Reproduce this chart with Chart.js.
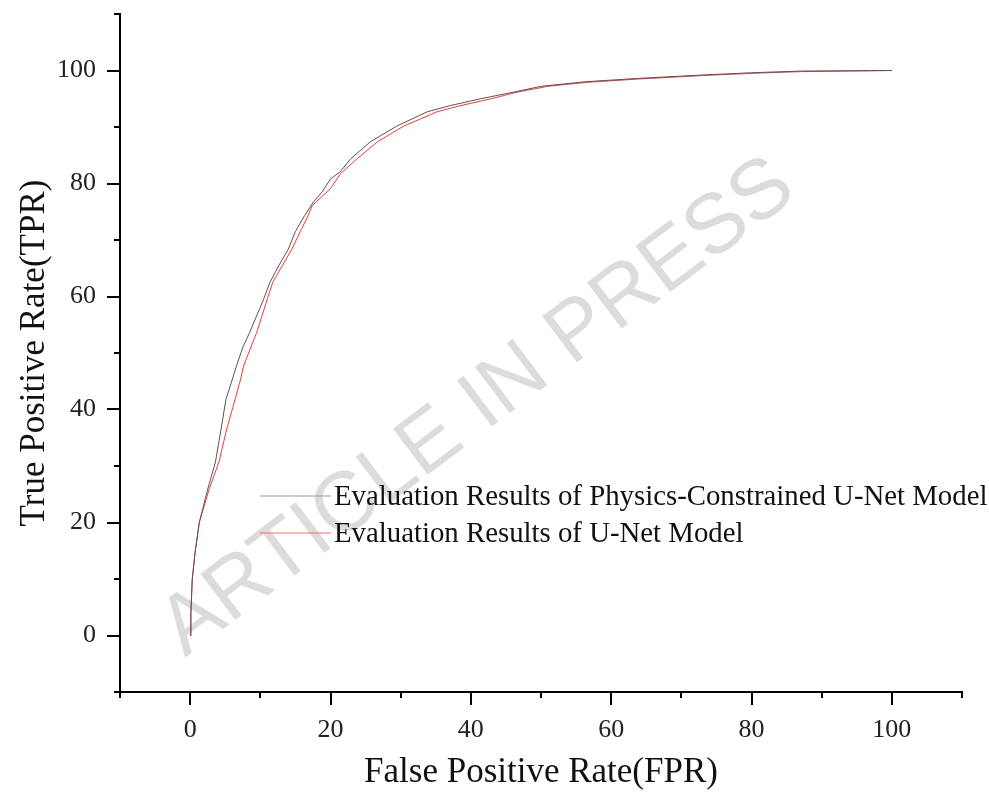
<!DOCTYPE html>
<html>
<head>
<meta charset="utf-8">
<script src="https://cdn.jsdelivr.net/npm/chart.js@4.4.1/dist/chart.umd.min.js"></script>
<style>
  html, body { margin: 0; padding: 0; background: #fff; }
  #wrap { width: 989px; height: 795px; }
</style>
</head>
<body>
<div id="wrap"><canvas id="roc"></canvas></div>
<script>
// ROC curves, values (percent)
const fprPhys = [0, 0.1, 0.3, 0.7, 1.3, 2.5, 3.6, 4.4, 5.1, 5.8, 6.6, 7.5, 8.5, 10.5, 11.4, 12.6, 14.0, 15.0, 16.3, 17.6, 18.8, 20.0, 21.4, 22.9, 25.7, 29.5, 33.8, 37.1, 41.4, 46.2, 50.0, 56.2, 63.8, 72.9, 80.0, 87.0, 100];
const tprPhys = [0, 4, 10, 14.7, 20, 25.9, 30.7, 36.5, 41.8, 44.5, 47.7, 51.0, 53.7, 59.6, 62.6, 65.4, 68.4, 71.5, 74.3, 76.8, 78.5, 80.8, 82.1, 84.4, 87.4, 90.2, 92.7, 93.8, 95.0, 96.2, 97.2, 98.0, 98.6, 99.2, 99.6, 99.9, 100];
const fprUnet = [0, 0.1, 0.3, 0.7, 1.3, 2.7, 4.1, 5.2, 6.4, 7.2, 7.6, 9.5, 11.0, 11.8, 13.1, 14.5, 15.7, 16.8, 17.4, 20.0, 21.4, 23.8, 26.7, 30.5, 35.2, 38.6, 42.9, 46.7, 51.0, 56.5, 64.0, 73.0, 80.0, 87.0, 100];
const tprUnet = [0, 4, 10, 14.7, 20, 25.9, 30.7, 36.5, 41.8, 45.4, 47.7, 53.7, 59.6, 62.6, 65.4, 68.4, 71.5, 74.3, 76.1, 79.1, 81.7, 84.4, 87.4, 90.2, 92.7, 93.8, 95.0, 96.2, 97.2, 97.9, 98.5, 99.1, 99.5, 99.8, 100];

const xTicks = [0, 20, 40, 60, 80, 100];
const yTicks = [0, 20, 40, 60, 80, 100];
const seriesNames = ['Evaluation Results of Physics-Constrained U-Net Model', 'Evaluation Results of U-Net Model'];

const toPoints = (xs, ys) => xs.map((x, i) => ({ x: x, y: ys[i] }));
const SERIF = "'Liberation Serif', 'Times New Roman', serif";

// tick marks: long at labelled values, short half-way and at the axis ends
const tickMarks = {
    id: 'tickMarks',
    afterDraw(chart) {
        const { ctx, chartArea: a, scales: { x, y } } = chart;
        ctx.save();
        ctx.strokeStyle = '#000';
        ctx.lineWidth = 2;
        ctx.beginPath();
        for (let v = -10; v <= 110; v += 10) {
            const len = xTicks.includes(v) ? 13 : 6;
            const px = Math.round(x.getPixelForValue(v));
            ctx.moveTo(px, a.bottom); ctx.lineTo(px, a.bottom + len);
            const py = Math.round(y.getPixelForValue(v));
            const ly = yTicks.includes(v) ? 13 : 6;
            ctx.moveTo(a.left, py); ctx.lineTo(a.left - ly, py);
        }
        ctx.stroke();
        ctx.restore();
    }
};

const watermark = {
    id: 'watermark',
    beforeDatasetsDraw(chart) {
        const ctx = chart.ctx;
        ctx.save();
        ctx.translate(478, 408);
        ctx.rotate(-37 * Math.PI / 180);
        ctx.font = "84px 'Liberation Sans', Arial, sans-serif";
        ctx.fillStyle = '#dcdcdc';
        ctx.textAlign = 'center';
        ctx.textBaseline = 'middle';
        ctx.fillText('ARTICLE IN PRESS', 0, 0);
        ctx.restore();
    }
};

const innerLegend = {
    id: 'innerLegend',
    afterDraw(chart) {
        const ctx = chart.ctx;
        const rows = [{ y: 496, color: '#999999' }, { y: 533, color: '#ff6a6a' }];
        ctx.save();
        ctx.font = '28.8px ' + SERIF;
        ctx.textBaseline = 'middle';
        chart.data.datasets.forEach((ds, i) => {
            const r = rows[i];
            ctx.strokeStyle = r.color;
            ctx.lineWidth = 1.2;
            ctx.beginPath();
            ctx.moveTo(260, r.y); ctx.lineTo(331, r.y);
            ctx.stroke();
            ctx.fillStyle = '#111';
            ctx.fillText(ds.label, 334, r.y + 1);
        });
        ctx.restore();
    }
};

new Chart(document.getElementById('roc').getContext('2d'), {
    type: 'scatter',
    data: {
        datasets: [
            { label: seriesNames[0], data: toPoints(fprPhys, tprPhys), showLine: true, borderColor: '#555555', borderWidth: 1, pointRadius: 0, tension: 0 },
            { label: seriesNames[1], data: toPoints(fprUnet, tprUnet), showLine: true, borderColor: '#f23a3a', borderWidth: 1, pointRadius: 0, tension: 0 }
        ]
    },
    options: {
        responsive: true,
        maintainAspectRatio: false,
        animation: false,
        layout: { padding: { top: 14, right: 27, left: 0, bottom: 0 } },
        plugins: { legend: { display: false }, tooltip: { enabled: false } },
        scales: {
            x: {
                type: 'linear', min: -10, max: 110,
                afterBuildTicks: s => { s.ticks = xTicks.map(v => ({ value: v })); },
                afterFit: s => { s.height = 103; s.paddingLeft = 0; s.paddingRight = 0; },
                grid: { display: false, drawTicks: false },
                border: { display: true, color: '#000', width: 2 },
                ticks: { color: '#222', padding: 23, font: { family: SERIF, size: 26 } },
                title: { display: true, text: 'False Positive Rate(FPR)', color: '#111', font: { family: SERIF, size: 35 }, padding: { top: 0, bottom: 1 } }
            },
            y: {
                type: 'linear', min: -10, max: 110,
                afterBuildTicks: s => { s.ticks = yTicks.map(v => ({ value: v })); },
                afterFit: s => { s.width = 120; s.paddingTop = 0; s.paddingBottom = 0; },
                grid: { display: false, drawTicks: false },
                border: { display: true, color: '#000', width: 2 },
                ticks: { color: '#222', padding: 24, font: { family: SERIF, size: 26 } },
                title: { display: true, text: 'True Positive Rate(TPR)', color: '#111', font: { family: SERIF, size: 35 }, padding: { top: 14, bottom: 0 } }
            }
        }
    },
    plugins: [tickMarks, watermark, innerLegend]
});
</script>
</body>
</html>
